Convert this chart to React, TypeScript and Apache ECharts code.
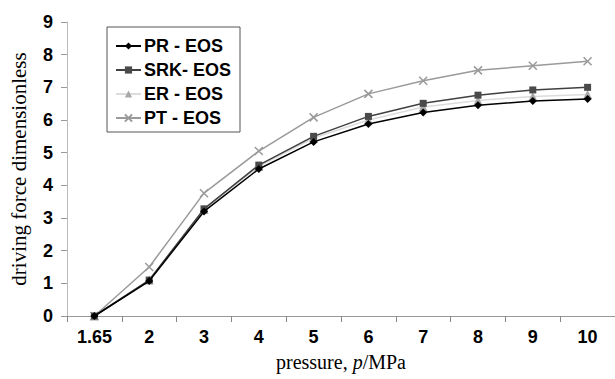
import React, { useEffect, useRef } from "react";
import * as echarts from "echarts";

const categories = ["1.65", "2", "3", "4", "5", "6", "7", "8", "9", "10"];
const prEos = [0, 1.07, 3.2, 4.5, 5.33, 5.88, 6.23, 6.45, 6.58, 6.64];
const srkEos = [0, 1.1, 3.28, 4.62, 5.5, 6.11, 6.51, 6.76, 6.92, 7.0];
const erEos = [0, 1.1, 3.26, 4.58, 5.45, 6.0, 6.4, 6.6, 6.72, 6.78];
const ptEos = [0, 1.5, 3.76, 5.05, 6.08, 6.8, 7.2, 7.52, 7.66, 7.8];

const xSymbol = "path://M0 0L10 10M10 0L0 10";

export default function App() {
  const ref = useRef<HTMLDivElement>(null);
  useEffect(() => {
    if (!ref.current) return;
    const chart = echarts.init(ref.current, undefined, { renderer: "svg" });
    const tickFont = {
      fontFamily: "Liberation Sans, Arial, sans-serif",
      fontWeight: "bold" as const,
      fontSize: 18,
      color: "#000",
    };
    chart.setOption({
      animation: false,
      backgroundColor: "#fff",
      grid: { left: 66, right: -10, top: 22, bottom: 63 },
      legend: {
        orient: "vertical",
        left: 107,
        top: 27,
        padding: [10, 9, 5, 8],
        itemGap: 6,
        itemWidth: 25,
        itemHeight: 9,
        borderColor: "#555",
        borderWidth: 1,
        backgroundColor: "#fff",
        textStyle: { ...tickFont, fontSize: 18, padding: [0, 0, 0, -2] },
        data: ["PR - EOS", "SRK- EOS", "ER - EOS", "PT - EOS"],
      },
      xAxis: {
        type: "category",
        data: categories,
        boundaryGap: true,
        name: "{a|pressure, }{i|p}{a|/MPa}",
        nameLocation: "middle",
        nameGap: 36,
        nameTextStyle: {
          rich: {
            a: { fontFamily: "Liberation Serif, Times New Roman, serif", fontSize: 20, color: "#000" },
            i: { fontFamily: "Liberation Serif, Times New Roman, serif", fontSize: 20, fontStyle: "italic", color: "#000" },
          },
        },
        axisLine: { lineStyle: { color: "#999", width: 1 } },
        axisTick: { show: true, inside: false, length: 6, interval: 0, lineStyle: { color: "#888" } },
        axisLabel: { ...tickFont, margin: 12, interval: 0 },
        splitLine: { show: false },
      },
      yAxis: {
        type: "value",
        min: 0,
        max: 9,
        interval: 1,
        name: "driving force dimensionless",
        nameLocation: "middle",
        nameGap: 38,
        nameTextStyle: {
          fontFamily: "Liberation Serif, Times New Roman, serif",
          fontSize: 21,
          color: "#000",
        },
        axisLine: { show: true, lineStyle: { color: "#bbb", width: 1 } },
        axisTick: { show: true, inside: false, length: 6, lineStyle: { color: "#999" } },
        axisLabel: { ...tickFont, margin: 14 },
        splitLine: { show: false },
      },
      series: [
        {
          name: "PR - EOS",
          type: "line",
          data: prEos,
          symbol: "diamond",
          symbolSize: 8,
          lineStyle: { color: "#000", width: 1.5 },
          itemStyle: { color: "#000" },
          z: 5,
        },
        {
          name: "SRK- EOS",
          type: "line",
          data: srkEos,
          symbol: "rect",
          symbolSize: 7,
          lineStyle: { color: "#404040", width: 1.5 },
          itemStyle: { color: "#4a4a4a" },
          z: 4,
        },
        {
          name: "ER - EOS",
          type: "line",
          data: erEos,
          symbol: "triangle",
          symbolSize: 9,
          lineStyle: { color: "#dcdcdc", width: 1.5 },
          itemStyle: { color: "#a8a8a8" },
          z: 3,
        },
        {
          name: "PT - EOS",
          type: "line",
          data: ptEos,
          symbol: xSymbol,
          symbolSize: 8,
          lineStyle: { color: "#9a9a9a", width: 1.5 },
          itemStyle: { color: "#9a9a9a", borderColor: "#9a9a9a", borderWidth: 1.5 },
          z: 2,
        },
      ],
    });
    return () => chart.dispose();
  }, []);
  return (
    <div
      ref={ref}
      style={{ position: "fixed", left: 0, top: 0, width: 615, height: 379, background: "#fff" }}
    />
  );
}
